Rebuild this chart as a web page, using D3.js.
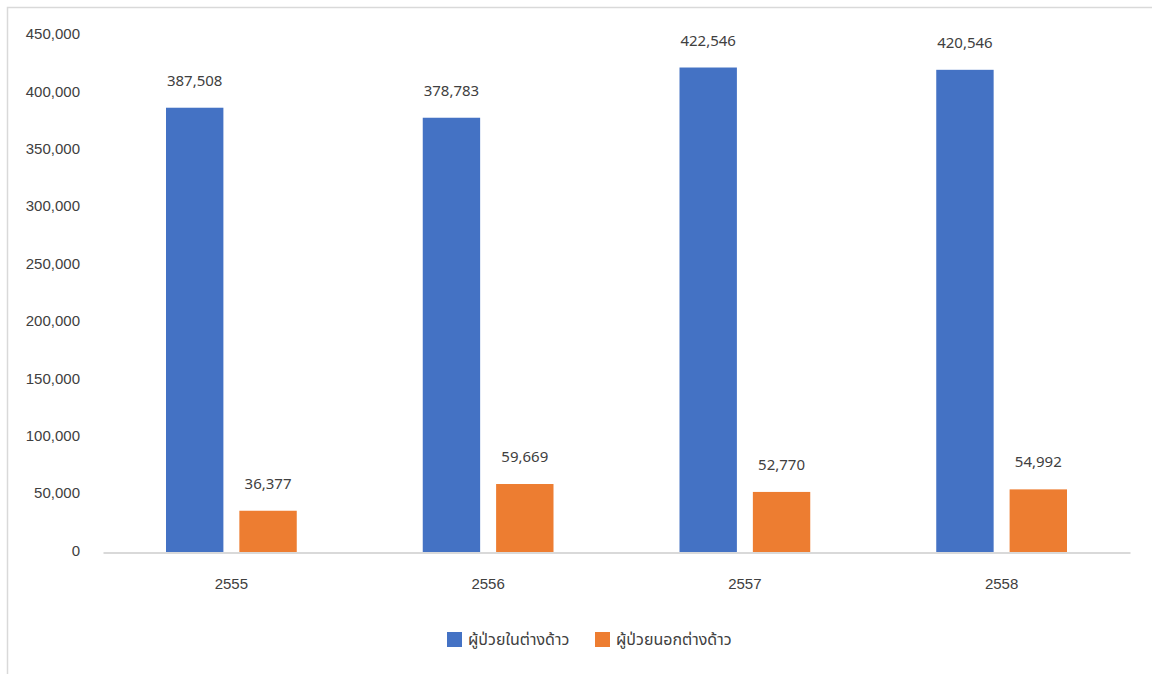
<!DOCTYPE html>
<html>
<head>
<meta charset="utf-8">
<script src="https://cdn.jsdelivr.net/npm/d3@7"></script>
<style>
  html, body { margin: 0; padding: 0; background: #fff; }
  svg { display: block; font-family: "Noto Sans", "Noto Sans Thai", "DejaVu Sans", sans-serif; }
</style>
</head>
<body>
<svg id="chart" width="1152" height="674"></svg>
<script>
// Years (Buddhist era) and patient counts per series
const years = ["2555", "2556", "2557", "2558"];
const seriesNames = ["ผู้ป่วยในต่างด้าว", "ผู้ป่วยนอกต่างด้าว"];
const inpatients = [387508, 378783, 422546, 420546];
const outpatients = [36377, 59669, 52770, 54992];
const yTicks = [0, 50000, 100000, 150000, 200000, 250000, 300000, 350000, 400000, 450000];
const colors = ["#4472c4", "#ed7d31"];

const svg = d3.select("#chart");
const W = 1152, H = 674;
const plot = { left: 103, right: 1130, top: 36, bottom: 552.5 };

// outer frame
svg.append("rect")
  .attr("x", 7.5).attr("y", 7.5)
  .attr("width", W).attr("height", H)
  .attr("fill", "none").attr("stroke", "#d9d9d9").attr("stroke-width", 1.5);

const x0 = d3.scaleBand().domain(years).range([plot.left, plot.right]).padding(0);
const inner = 63;
const x1 = d3.scaleBand().domain(seriesNames)
  .range([inner, x0.bandwidth() - inner]).paddingInner(0.2177).paddingOuter(0);
const y = d3.scaleLinear().domain([0, 450000]).range([plot.bottom, plot.top]);

const fmt = d3.format(",");

// y-axis labels (no line, no ticks)
const yAxis = d3.axisLeft(y).tickValues(yTicks).tickFormat(fmt).tickSize(0).tickPadding(0);
const yg = svg.append("g").attr("transform", `translate(80,-2)`).call(yAxis);
yg.select(".domain").remove();
yg.selectAll("text").attr("font-size", 15).attr("fill", "#404040")
  .attr("font-family", "inherit");

// bars
const data = years.map((yr, i) => ({ year: yr, values: [inpatients[i], outpatients[i]] }));
const groups = svg.append("g").selectAll("g").data(data).join("g")
  .attr("transform", d => `translate(${x0(d.year)},0)`);

groups.selectAll("rect")
  .data(d => d.values.map((v, k) => ({ name: seriesNames[k], value: v, k })))
  .join("rect")
  .attr("x", d => x1(d.name))
  .attr("y", d => y(d.value))
  .attr("width", x1.bandwidth())
  .attr("height", d => y(0) - y(d.value))
  .attr("fill", d => colors[d.k]);

groups.selectAll("text.val")
  .data(d => d.values.map((v, k) => ({ name: seriesNames[k], value: v, k })))
  .join("text")
  .attr("class", "val")
  .attr("x", d => x1(d.name) + x1.bandwidth() / 2)
  .attr("y", d => y(d.value) - 22)
  .attr("text-anchor", "middle")
  .attr("font-size", 15)
  .attr("fill", "#404040")
  .text(d => fmt(d.value));

// x baseline and category labels
const xAxis = d3.axisBottom(x0).tickSize(0).tickPadding(0);
const xg = svg.append("g").attr("transform", `translate(0,${plot.bottom})`).call(xAxis);
xg.select(".domain").attr("stroke", "#d9d9d9").attr("stroke-width", 2);
xg.selectAll("text").attr("font-size", 15).attr("fill", "#404040")
  .attr("font-family", "inherit").attr("dy", 0).attr("y", 36);

// legend
const legend = svg.append("g");
const legendX = [447, 595];
seriesNames.forEach((name, k) => {
  const g = legend.append("g").attr("transform", `translate(${legendX[k]},632)`);
  g.append("rect").attr("width", 15).attr("height", 15).attr("fill", colors[k]);
  g.append("text").attr("x", 21).attr("y", 13).attr("font-size", 16)
    .attr("fill", "#404040").text(name);
});
</script>
</body>
</html>
